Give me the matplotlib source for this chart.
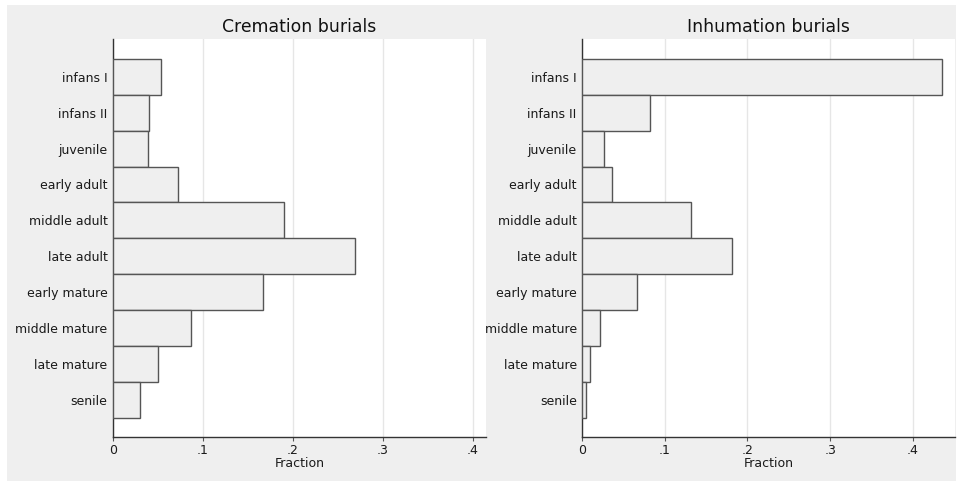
import matplotlib
matplotlib.use("Agg")
import matplotlib.pyplot as plt
from matplotlib.patches import Rectangle

# age classes, top to bottom
age_classes = ["infans I", "infans II", "juvenile", "early adult", "middle adult",
               "late adult", "early mature", "middle mature", "late mature", "senile"]
cremation = [0.0533, 0.0404, 0.0385, 0.0719, 0.1904, 0.2685, 0.1670, 0.0863, 0.0500, 0.0304]
inhumation = [0.4358, 0.0823, 0.0263, 0.0363, 0.1320, 0.1816, 0.0666, 0.0210, 0.0097, 0.0048]
xticks = [0, 0.1, 0.2, 0.3, 0.4]
xtick_labels = ["0", ".1", ".2", ".3", ".4"]

BG = "#efefef"
W, H = 958, 482

fig = plt.figure(figsize=(W / 100, H / 100), dpi=100)
fig.patch.set_facecolor("white")
fig.patches.append(Rectangle((7 / W, 1 / H), 949 / W, 476 / H, transform=fig.transFigure,
                             facecolor=BG, edgecolor="none", zorder=-10))


def panel(left_px, right_px, values, title, xmax):
    ax = fig.add_axes([left_px / W, 45 / H, (right_px - left_px) / W, 398 / H])
    ax.set_facecolor("white")
    pos = list(range(len(age_classes)))
    ax.barh(pos, values, height=1.0, color="#efefef", edgecolor="#555555", linewidth=1.0, zorder=3)
    ax.set_ylim(9 + 1.03, -1.05)
    ax.set_xlim(0, xmax)
    ax.set_yticks(pos)
    ax.set_yticklabels(age_classes, fontsize=9, color="#1a1a1a")
    ax.tick_params(axis="y", length=0, pad=4)
    ax.set_xticks(xticks)
    ax.set_xticklabels(xtick_labels, fontsize=9, color="#1a1a1a")
    ax.tick_params(axis="x", length=3, width=0.8, color="#555555", pad=2)
    ax.grid(axis="x", color="#e6e6e6", linewidth=1.0, zorder=0)
    ax.set_axisbelow(True)
    for s in ("top", "right"):
        ax.spines[s].set_visible(False)
    for s in ("left", "bottom"):
        ax.spines[s].set_color("#333333")
        ax.spines[s].set_linewidth(1.0)
    ax.set_title(title, fontsize=12.4, color="#111111", pad=5)
    ax.set_xlabel("Fraction", fontsize=9, color="#1a1a1a", labelpad=0)
    return ax


panel(113, 486, cremation, "Cremation burials", 0.4144)
panel(582.3, 955.3, inhumation, "Inhumation burials", 0.4516)

fig.savefig("out.png", dpi=100, facecolor=fig.get_facecolor())
